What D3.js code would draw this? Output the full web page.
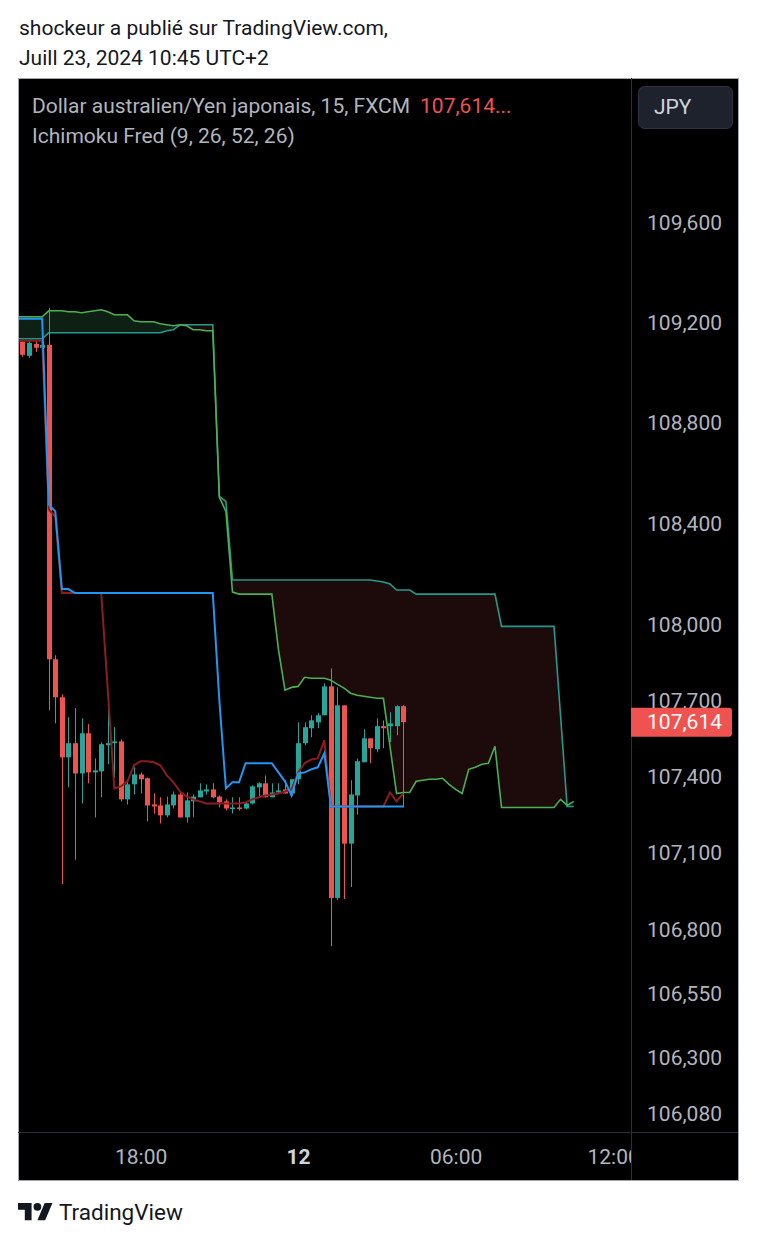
<!DOCTYPE html>
<html>
<head>
<meta charset="utf-8">
<script src="https://cdn.jsdelivr.net/npm/d3@7"></script>
<style>
  html, body { margin: 0; padding: 0; background: #ffffff; }
  svg { display: block; font-family: Roboto, "Noto Sans", sans-serif; }
</style>
</head>
<body>
<svg id="chart" width="757" height="1242"></svg>
<script>
// ---------------- DATA ----------------
// 15-minute bars of AUD/JPY (FXCM), bar 0 = 11 July 2024 13:30 (UTC+2 local time)
const firstBarTime = Date.UTC(2024, 6, 11, 13, 30);
const barMinutes = 15;

const candleOpen = [109.124,109.068,109.116,109.100,109.112,107.862,107.712,107.475,107.531,107.412,
  107.570,107.416,107.420,107.523,107.531,107.538,107.310,107.369,107.408,107.393,
  107.290,107.286,107.247,107.286,107.329,107.239,107.302,107.318,107.341,107.349,
  107.321,107.302,107.274,107.278,107.274,107.294,107.357,107.373,107.318,107.337,
  107.349,107.333,107.389,107.531,107.590,107.613,107.641,107.755,106.923,107.680,
  107.136,107.325,107.456,107.550,107.507,107.598,107.598,107.598,107.677];
const candleHigh = [109.128,109.128,109.128,109.124,109.260,107.878,107.724,107.633,107.669,107.629,
  107.606,107.471,107.535,107.684,107.594,107.546,107.385,107.436,107.416,107.396,
  107.333,107.318,107.321,107.341,107.337,107.337,107.329,107.373,107.369,107.373,
  107.325,107.310,107.318,107.318,107.298,107.365,107.377,107.404,107.373,107.373,
  107.385,107.389,107.613,107.613,107.641,107.649,107.767,107.826,107.751,107.680,
  107.385,107.471,107.586,107.550,107.629,107.621,107.653,107.680,107.680];
const candleLow = [109.064,109.060,109.084,109.096,107.661,107.609,106.978,107.357,107.073,107.294,
  107.373,107.239,107.318,107.448,107.396,107.302,107.290,107.329,107.333,107.223,
  107.254,107.215,107.239,107.274,107.239,107.219,107.239,107.318,107.329,107.314,
  107.278,107.266,107.254,107.266,107.270,107.290,107.321,107.318,107.318,107.333,
  107.333,107.325,107.369,107.523,107.554,107.590,107.641,106.734,106.915,106.919,
  106.966,107.250,107.456,107.452,107.495,107.511,107.535,107.562,107.278];
const candleClose = [109.072,109.120,109.100,109.112,107.862,107.712,107.475,107.531,107.412,107.570,
  107.416,107.424,107.527,107.531,107.538,107.310,107.369,107.408,107.389,107.286,
  107.282,107.247,107.290,107.329,107.239,107.306,107.321,107.345,107.349,107.318,
  107.298,107.274,107.278,107.274,107.294,107.361,107.373,107.318,107.337,107.345,
  107.333,107.389,107.531,107.594,107.621,107.641,107.755,106.923,107.680,107.136,
  107.329,107.460,107.550,107.511,107.598,107.590,107.609,107.677,107.614];

// Ichimoku lines: bars -1 .. 58
const lineFirstBar = -1;
const tenkan = [109.128,109.128,109.128,109.128,109.128,108.456,
  108.428,108.124,108.124,108.124,108.124,108.124,108.124,108.124,107.740,107.353,
  107.361,107.381,107.444,107.460,107.460,107.456,107.444,107.404,107.377,107.341,
  107.321,107.310,107.302,107.294,107.294,107.294,107.294,107.294,107.294,107.298,
  107.310,107.318,107.325,107.329,107.333,107.341,107.349,107.416,107.452,107.467,
  107.471,107.542,107.282,107.282,107.282,107.282,107.282,107.282,107.282,107.282,
  107.282,107.337,107.302,107.333];
const kijun = [109.216,109.216,109.216,109.216,109.216,108.476,
  108.448,108.140,108.140,108.124,108.124,108.124,108.124,108.124,108.124,108.124,
  108.124,108.124,108.124,108.124,108.124,108.124,108.124,108.124,108.124,108.124,
  108.124,108.124,108.124,108.124,108.124,107.700,107.353,107.377,107.377,107.452,
  107.452,107.452,107.452,107.452,107.416,107.381,107.325,107.412,107.416,107.428,
  107.436,107.491,107.282,107.282,107.282,107.282,107.282,107.282,107.282,107.282,
  107.282,107.282,107.282,107.282];

// Senkou spans (projected 26 bars ahead): bars -1 .. 84
const senkouFirstBar = -1;
const senkouA = [109.224,109.224,109.224,109.224,109.224,109.248,
  109.248,109.248,109.244,109.244,109.240,109.244,109.248,109.252,109.244,109.232,
  109.232,109.232,109.208,109.204,109.204,109.204,109.196,109.192,109.188,109.192,
  109.188,109.172,109.172,109.168,109.168,108.504,108.448,108.128,108.120,108.120,
  108.120,108.120,108.120,108.120,107.901,107.740,107.751,107.755,107.791,107.787,
  107.787,107.787,107.779,107.763,107.748,107.728,107.720,107.716,107.712,107.708,
  107.708,107.519,107.333,107.337,107.337,107.381,107.385,107.389,107.389,107.393,
  107.369,107.349,107.333,107.428,107.436,107.448,107.452,107.519,107.278,107.278,
  107.278,107.278,107.278,107.278,107.278,107.278,107.278,107.310,107.286,107.302];
const senkouB = [109.136,109.136,109.136,109.136,109.136,109.160,
  109.160,109.160,109.160,109.160,109.160,109.160,109.160,109.160,109.160,109.160,
  109.160,109.160,109.160,109.160,109.160,109.160,109.160,109.168,109.172,109.192,
  109.192,109.192,109.192,109.192,109.192,108.508,108.488,108.176,108.176,108.176,
  108.176,108.176,108.176,108.176,108.176,108.176,108.176,108.176,108.176,108.176,
  108.176,108.176,108.176,108.176,108.176,108.176,108.176,108.176,108.176,108.172,
  108.168,108.160,108.136,108.136,108.136,108.120,108.120,108.120,108.120,108.120,
  108.120,108.120,108.120,108.120,108.120,108.120,108.120,108.120,107.992,107.992,
  107.992,107.992,107.992,107.992,107.992,107.992,107.992,107.637,107.282,107.282];

const priceTicks = [109.6, 109.2, 108.8, 108.4, 108.0, 107.7, 107.4, 107.1, 106.8, 106.55, 106.3, 106.08];
const timeTickBars = [18, 42, 66, 90];
const timeTickLabels = ["18:00", "12", "06:00", "12:00"];
const lastPrice = 107.614;

// ---------------- LAYOUT ----------------
const svg = d3.select("#chart");
const frame = { left: 18, top: 78, right: 738, bottom: 1180 };
const plot = { left: 19, right: 631, top: 79, bottom: 1132 };
const barTime = i => new Date(firstBarTime + i * barMinutes * 60000);

const x = d3.scaleTime()
  .domain([barTime(-0.53), barTime(92.73)])
  .range([plot.left, plot.right]);
const y = d3.scaleLog()
  .domain([106.08, 109.6])
  .range([1114, 223]);

const commaFmt = v => d3.format(".3f")(v).replace(".", ",");

// header texts
svg.append("text").attr("x", 19).attr("y", 35).attr("font-size", 21).attr("fill", "#131722")
  .text("shockeur a publié sur TradingView.com,");
svg.append("text").attr("x", 19).attr("y", 65).attr("font-size", 21).attr("fill", "#131722")
  .text("Juill 23, 2024 10:45 UTC+2");

// chart frame
svg.append("rect").attr("x", frame.left + 0.5).attr("y", frame.top + 0.5)
  .attr("width", frame.right - frame.left).attr("height", frame.bottom - frame.top)
  .attr("fill", "#000000").attr("stroke", "#a3a6af").attr("stroke-width", 1);

const defs = svg.append("defs");
defs.append("clipPath").attr("id", "plotClip").append("rect")
  .attr("x", plot.left).attr("y", plot.top)
  .attr("width", plot.right - plot.left).attr("height", plot.bottom - plot.top);
defs.append("clipPath").attr("id", "timeClip").append("rect")
  .attr("x", plot.left).attr("y", plot.bottom)
  .attr("width", plot.right - plot.left).attr("height", frame.bottom - plot.bottom);

// separators
svg.append("line").attr("x1", plot.right + 0.5).attr("x2", plot.right + 0.5)
  .attr("y1", frame.top).attr("y2", frame.bottom).attr("stroke", "#2a2e39");
svg.append("line").attr("x1", frame.left).attr("x2", frame.right)
  .attr("y1", plot.bottom + 0.5).attr("y2", plot.bottom + 0.5).attr("stroke", "#2a2e39");

const plotG = svg.append("g").attr("clip-path", "url(#plotClip)");

// ---------- cloud ----------
const cloud = senkouA.map((a, k) => ({ t: barTime(senkouFirstBar + k), a: a, b: senkouB[k] }));
defs.append("clipPath").attr("id", "aboveB").append("path")
  .attr("d", d3.area().x(d => x(d.t)).y0(plot.top - 20).y1(d => y(d.b))(cloud));
defs.append("clipPath").attr("id", "belowB").append("path")
  .attr("d", d3.area().x(d => x(d.t)).y0(d => y(d.b)).y1(plot.bottom + 20)(cloud));
const cloudArea = d3.area().x(d => x(d.t)).y0(d => y(d.a)).y1(d => y(d.b));
plotG.append("g").attr("clip-path", "url(#aboveB)").append("path")
  .attr("d", cloudArea(cloud)).attr("fill", "#0e1f14");
plotG.append("g").attr("clip-path", "url(#belowB)").append("path")
  .attr("d", cloudArea(cloud)).attr("fill", "#1d0b0b");

const lineGen = d3.line().x(d => x(d.t)).y(d => y(d.v));
plotG.append("path").attr("d", lineGen(cloud.map(d => ({ t: d.t, v: d.b }))))
  .attr("fill", "none").attr("stroke", "#229b8d").attr("stroke-width", 1.6);
plotG.append("path").attr("d", lineGen(cloud.map(d => ({ t: d.t, v: d.a }))))
  .attr("fill", "none").attr("stroke", "#4caf50").attr("stroke-width", 1.6);

// ---------- candles ----------
const candles = candleOpen.map((o, i) => ({
  t: barTime(i), o: o, h: candleHigh[i], l: candleLow[i], c: candleClose[i]
}));
const upColor = "#26a69a", downColor = "#ef5350";
const cg = plotG.append("g").selectAll("g").data(candles).join("g");
cg.append("line")
  .attr("x1", d => Math.round(x(d.t)) + 0.5).attr("x2", d => Math.round(x(d.t)) + 0.5)
  .attr("y1", d => y(d.h)).attr("y2", d => y(d.l))
  .attr("stroke", d => d.c >= d.o ? upColor : downColor).attr("stroke-width", 1);
cg.append("rect")
  .attr("x", d => Math.round(x(d.t)) - 2).attr("width", 5)
  .attr("y", d => y(Math.max(d.o, d.c)))
  .attr("height", d => Math.max(1.5, Math.abs(y(d.o) - y(d.c))))
  .attr("fill", d => d.c >= d.o ? upColor : downColor);

// ---------- tenkan / kijun ----------
plotG.append("path").attr("d", lineGen(tenkan.map((v, k) => ({ t: barTime(lineFirstBar + k), v: v }))))
  .attr("fill", "none").attr("stroke", "#8e1c1c").attr("stroke-width", 2);
plotG.append("path").attr("d", lineGen(kijun.map((v, k) => ({ t: barTime(lineFirstBar + k), v: v }))))
  .attr("fill", "none").attr("stroke", "#2196f3").attr("stroke-width", 2);

// ---------- price axis ----------
const yAxis = d3.axisRight(y).tickValues(priceTicks).tickSize(0).tickFormat(commaFmt);
const yAxisG = svg.append("g").attr("transform", `translate(${plot.right},0)`).call(yAxis);
yAxisG.select(".domain").remove();
yAxisG.selectAll("text")
  .attr("x", 91).attr("text-anchor", "end")
  .attr("font-family", "Roboto, sans-serif").attr("font-size", 21).attr("fill", "#b2b5be");

// last price label
const lp = svg.append("g").attr("transform", `translate(${plot.right},${y(lastPrice)})`);
lp.append("path").attr("d", "M0,-14.5 H98 Q101,-14.5 101,-11.5 V11.5 Q101,14.5 98,14.5 H0 Z").attr("fill", "#ef5350");
lp.append("text").attr("x", 91).attr("dy", "0.35em").attr("text-anchor", "end")
  .attr("font-size", 21).attr("fill", "#ffffff").text(commaFmt(lastPrice));

// currency button
svg.append("rect").attr("x", 638.5).attr("y", 86.5).attr("width", 94).attr("height", 42).attr("rx", 6)
  .attr("fill", "#1e222d").attr("stroke", "#2f3341");
svg.append("text").attr("x", 654).attr("y", 114).attr("font-size", 21).attr("fill", "#d1d4dc").text("JPY");

// ---------- time axis ----------
const xAxis = d3.axisBottom(x)
  .tickValues(timeTickBars.map(barTime)).tickSize(0)
  .tickFormat((d, i) => timeTickLabels[i]);
const xAxisG = svg.append("g").attr("clip-path", "url(#timeClip)")
  .append("g").attr("transform", `translate(0,${plot.bottom})`).call(xAxis);
xAxisG.select(".domain").remove();
xAxisG.selectAll("text")
  .attr("y", 25).attr("dy", "0.35em")
  .attr("font-family", "Roboto, sans-serif").attr("font-size", 21)
  .attr("fill", (d, i) => i === 1 ? "#d1d4dc" : "#b2b5be")
  .attr("font-weight", (d, i) => i === 1 ? "bold" : "normal");

// ---------- legend ----------
const legend = svg.append("text").attr("x", 32).attr("y", 113).attr("font-size", 21).attr("fill", "#b2b5be");
legend.append("tspan").text("Dollar australien/Yen japonais, 15, FXCM");
legend.append("tspan").attr("dx", 10).attr("fill", "#ef5350").text(commaFmt(lastPrice) + "...");
svg.append("text").attr("x", 32).attr("y", 143).attr("font-size", 21).attr("fill", "#b2b5be")
  .text("Ichimoku Fred (9, 26, 52, 26)");

// ---------- footer ----------
const logo = svg.append("g").attr("transform", "translate(18,1199) scale(0.97)").attr("fill", "#131722");
logo.append("path").attr("d", "M14 22H7V11H0V4h14v18zM28 22h-8l7.5-18h8L28 22z");
logo.append("circle").attr("cx", 20).attr("cy", 8).attr("r", 4);
svg.append("text").attr("x", 59).attr("y", 1220).attr("font-size", 22.5).attr("fill", "#131722").text("TradingView");
</script>
</body>
</html>
